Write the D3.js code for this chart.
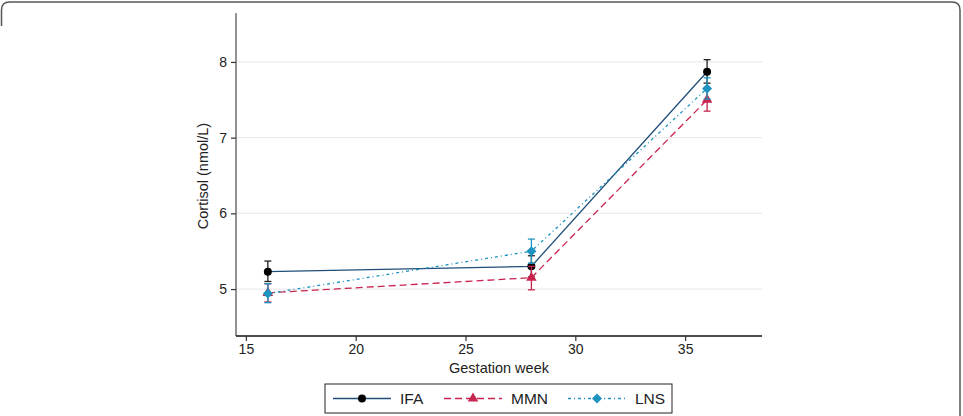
<!DOCTYPE html>
<html>
<head>
<meta charset="utf-8">
<script src="https://cdn.jsdelivr.net/npm/d3@7"></script>
<style>
  body { margin: 0; background: #fff; }
  svg { display: block; font-family: "Liberation Sans", Arial, sans-serif; }
</style>
</head>
<body>
<div id="chart"></div>
<script>
// data
const weeks = [16, 28, 36];
const seriesNames = ["IFA", "MMN", "LNS"];
const ifaMean = [5.23, 5.30, 7.87];
const ifaLow  = [5.10, 5.16, 7.72];
const ifaHigh = [5.37, 5.44, 8.03];
const mmnMean = [4.95, 5.15, 7.50];
const mmnLow  = [4.83, 4.99, 7.35];
const mmnHigh = [5.07, 5.30, 7.64];
const lnsMean = [4.94, 5.50, 7.65];
const lnsLow  = [4.82, 5.34, 7.51];
const lnsHigh = [5.07, 5.66, 7.79];
const xTicks = [15, 20, 25, 30, 35];
const yTicks = [5, 6, 7, 8];

const width = 963, height = 416;

const svg = d3.select("#chart").append("svg")
  .attr("width", width)
  .attr("height", height);

// outer frame (rounded, cropped at left bottom like the figure)
svg.append("path")
  .attr("d", "M1.5,26 L1.5,10 Q1.5,2 9.5,2 L952,2 Q960,2 960,10 L960,416")
  .attr("fill", "none")
  .attr("stroke", "#555")
  .attr("stroke-width", 1.5);

// scales
const x = d3.scaleLinear().domain([14.55, 38.5]).range([236, 762]);
const y = d3.scaleLinear().domain([4.38, 8.62]).range([336, 15]);

// gridlines
svg.append("g")
  .selectAll("line")
  .data(yTicks)
  .join("line")
    .attr("x1", 237).attr("x2", 762)
    .attr("y1", d => y(d)).attr("y2", d => y(d))
    .attr("stroke", "#ececec")
    .attr("stroke-width", 1.2);

// y axis
const yAxis = svg.append("g")
  .attr("transform", "translate(236,0)")
  .call(d3.axisLeft(y).tickValues(yTicks).tickSize(5).tickPadding(4).tickFormat(d3.format("d")));
yAxis.select(".domain").attr("stroke", "#777").attr("stroke-width", 1.6).attr("d", "M0,13V336");
yAxis.selectAll(".tick line").attr("stroke", "#333").attr("stroke-width", 1.2);
yAxis.selectAll("text").style("font-size", "14px").attr("fill", "#222");

// x axis
const xAxis = svg.append("g")
  .attr("transform", "translate(0,336)")
  .call(d3.axisBottom(x).tickValues(xTicks).tickSize(5).tickPadding(3));
xAxis.select(".domain").attr("stroke", "#111").attr("stroke-width", 1.3).attr("d", "M236,0H762");
xAxis.selectAll(".tick line").attr("stroke", "#333").attr("stroke-width", 1.2);
xAxis.selectAll("text").style("font-size", "14px").attr("fill", "#222");

// axis titles
svg.append("text")
  .attr("transform", "translate(208,176) rotate(-90)")
  .attr("text-anchor", "middle")
  .style("font-size", "14.5px")
  .attr("fill", "#222")
  .text("Cortisol (nmol/L)");

svg.append("text")
  .attr("x", 499).attr("y", 373)
  .attr("text-anchor", "middle")
  .style("font-size", "14.5px")
  .attr("fill", "#222")
  .text("Gestation week");

const series = [
  {name: seriesNames[0], mean: ifaMean, low: ifaLow, high: ifaHigh, line: "#1f4e79", marker: "#000", err: "#222", dash: null, shape: d3.symbolCircle, size: 50, rot: 0},
  {name: seriesNames[1], mean: mmnMean, low: mmnLow, high: mmnHigh, line: "#c8244f", marker: "#c8244f", err: "#c8244f", dash: "7,4", shape: d3.symbolTriangle, size: 48, rot: 0},
  {name: seriesNames[2], mean: lnsMean, low: lnsLow, high: lnsHigh, line: "#1f93c0", marker: "#1f93c0", err: "#1f93c0", dash: "3,3,1,3", shape: d3.symbolSquare, size: 50, rot: 45}
];

const line = d3.line().x(d => x(d.w)).y(d => y(d.v));

// lines
series.forEach(s => {
  const pts = weeks.map((w, i) => ({w: w, v: s.mean[i]}));
  svg.append("path")
    .datum(pts)
    .attr("d", line)
    .attr("fill", "none")
    .attr("stroke", s.line)
    .attr("stroke-width", 1.3)
    .attr("stroke-dasharray", s.dash);
});

// error bars + markers, drawn in series order (LNS ends up on top)
series.forEach(s => {
  const g = svg.append("g");
  const pts = weeks.map((w, i) => ({w: w, v: s.mean[i], lo: s.low[i], hi: s.high[i]}));
  g.selectAll("line.v").data(pts).join("line")
    .attr("x1", d => x(d.w)).attr("x2", d => x(d.w))
    .attr("y1", d => y(d.lo)).attr("y2", d => y(d.hi))
    .attr("stroke", s.err).attr("stroke-width", 1.3);
  ["lo", "hi"].forEach(k => {
    g.selectAll("line.c" + k).data(pts).join("line")
      .attr("x1", d => x(d.w) - 3.5).attr("x2", d => x(d.w) + 3.5)
      .attr("y1", d => y(d[k])).attr("y2", d => y(d[k]))
      .attr("stroke", s.err).attr("stroke-width", 1.3);
  });
  g.selectAll("path").data(pts).join("path")
    .attr("transform", d => `translate(${x(d.w)},${y(d.v)}) rotate(${s.rot})`)
    .attr("d", d3.symbol().type(s.shape).size(s.size))
    .attr("fill", s.marker);
});

// legend
const legend = svg.append("g");
legend.append("rect")
  .attr("x", 325).attr("y", 384)
  .attr("width", 347).attr("height", 29)
  .attr("fill", "#fff")
  .attr("stroke", "#222")
  .attr("stroke-width", 1);

const legX = [333, 444, 568];
series.forEach((s, i) => {
  const x0 = legX[i], yy = 398.5;
  legend.append("line")
    .attr("x1", x0).attr("x2", x0 + 58)
    .attr("y1", yy).attr("y2", yy)
    .attr("stroke", s.line).attr("stroke-width", 1.3)
    .attr("stroke-dasharray", s.dash);
  legend.append("path")
    .attr("transform", `translate(${x0 + 29},${yy}) rotate(${s.rot})`)
    .attr("d", d3.symbol().type(s.shape).size(s.size))
    .attr("fill", s.marker);
  legend.append("text")
    .attr("x", x0 + 67).attr("y", yy + 5.5)
    .style("font-size", "15.5px")
    .attr("fill", "#222")
    .text(s.name);
});
</script>
</body>
</html>
